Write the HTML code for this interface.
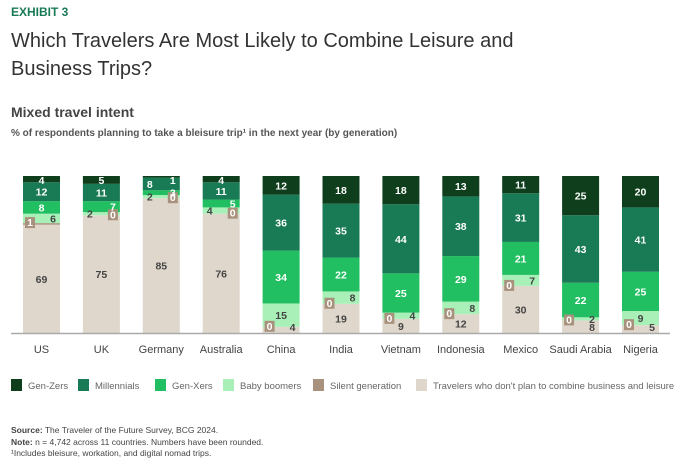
<!DOCTYPE html>
<html><head><meta charset="utf-8">
<style>
body{margin:0;background:#fff;width:697px;height:461px;overflow:hidden;font-family:"Liberation Sans",sans-serif;}
.t{position:absolute;left:11px;}
</style></head>
<body>
<div class="t" style="top:5px;font-size:12px;font-weight:bold;color:#197a56;">EXHIBIT 3</div>
<div class="t" style="top:27px;font-size:20px;line-height:28px;color:#333;width:560px;">Which Travelers Are Most Likely to Combine Leisure and Business Trips?</div>
<div class="t" style="top:104px;font-size:14px;font-weight:bold;color:#444;">Mixed travel intent</div>
<div class="t" style="top:128px;font-size:10px;font-weight:bold;color:#555;">% of respondents planning to take a bleisure trip¹ in the next year (by generation)</div>
<svg id="chart" width="697" height="461" style="position:absolute;left:0;top:0" font-family="Liberation Sans, sans-serif"></svg>
<div class="t" style="top:425px;font-size:8.5px;line-height:11.5px;color:#444;"><b>Source:</b> The Traveler of the Future Survey, BCG 2024.<br><b>Note:</b> n = 4,742 across 11 countries. Numbers have been rounded.<br>¹Includes bleisure, workation, and digital nomad trips.</div>
<script>
const countries=["US","UK","Germany","Australia","China","India","Vietnam","Indonesia","Mexico","Saudi Arabia","Nigeria"];
const noPlan=[69,75,85,76,4,19,9,12,30,8,5];
const silent=[1,0,0,0,0,0,0,0,0,0,0];
const boomers=[6,2,2,4,15,8,4,8,7,2,9];
const genX=[8,7,3,5,34,22,25,29,21,22,25];
const millennials=[12,11,8,11,36,35,44,38,31,43,41];
const genZ=[4,5,1,4,12,18,18,13,11,25,20];
const silentSide=["l","r","r","r","l","l","l","l","l","l","l"];
const seriesNames=["Gen-Zers","Millennials","Gen-Xers","Baby boomers","Silent generation","Travelers who don't plan to combine business and leisure"];
const colors=["#0e3e1b","#197a56","#21bf61","#a8f0b8","#a8927d","#dfd7cc"];
const svg=document.getElementById('chart');const NS="http://www.w3.org/2000/svg";
function mk(t,a){const e=document.createElementNS(NS,t);for(const k in a)e.setAttribute(k,a[k]);svg.appendChild(e);return e;}
const top0=176,base=333,x0=11,step=59.9,bw=37;
const xc=i=>x0+bw/2+12+i*step;
const stackOrder=[noPlan,silent,boomers,genX,millennials,genZ];
const colIdx=[5,4,3,2,1,0];
const slug=["no-plan","silent","boomers","genx","millennials","genz"];
countries.forEach((c,i)=>{
  const tot=stackOrder.reduce((s,a)=>s+a[i],0);
  const y=v=>(base-top0)*v/tot;
  let cur=base;const segs=[];
  stackOrder.forEach((arr,k)=>{
    const h=y(arr[i]);cur-=h;
    const r=mk('rect',{x:xc(i)-bw/2,y:cur,width:bw,height:Math.max(h,0),fill:colors[colIdx[k]]});
    
    
    segs.push({k,v:arr[i],y:cur,h});
  });
  const L=xc(i)-bw/2+7, R=xc(i)+bw/2-7, C=xc(i);
  const sL=silentSide[i]==="l";
  const tinyZ=segs[5].h<4;
  segs.forEach(s=>{
    let tx=C,ty=s.y+s.h/2+4,fill="#fff";
    if(s.k===5){ if(tinyZ){tx=R;ty=s.y+8;} else if(s.h<10){ty=s.y+8;} }
    else if(s.k===4){ if(tinyZ){tx=L;} }
    else if(s.k===3){ if(s.h<11){tx=R;} }
    else if(s.k===2){ fill="#444"; if(s.h<14){tx=sL?R:L;} }
    else if(s.k===1){
      const bx=sL?L:R, by=s.y-6;
      const b=mk('rect',{x:bx-5,y:by,width:10,height:11,fill:colors[4]});
      
      tx=bx;ty=by+9;fill="#fff";
    }
    else { fill="#444"; if(s.h<14){tx=R;ty=base-2;} }
    const t=mk('text',{x:tx,y:ty,'font-size':10.5,'font-weight':'bold','text-anchor':'middle',fill});
    
    t.textContent=s.v;
  });
  const l=mk('text',{x:xc(i),y:353,'font-size':11,'text-anchor':'middle',fill:'#444'});
  
  l.textContent=c;
});
const ax=mk('line',{x1:11,x2:670,y1:333.5,y2:333.5,stroke:'#aaa','stroke-width':1.5});

const lx=[11,78,155,223,313,416];
seriesNames.forEach((n,k)=>{
  const r=mk('rect',{x:lx[k],y:379,width:11,height:12,fill:colors[k]});
  
  const t=mk('text',{x:lx[k]+17,y:389,'font-size':9.5,fill:'#666'});
  
  t.textContent=n;
});
</script>
</body></html>
